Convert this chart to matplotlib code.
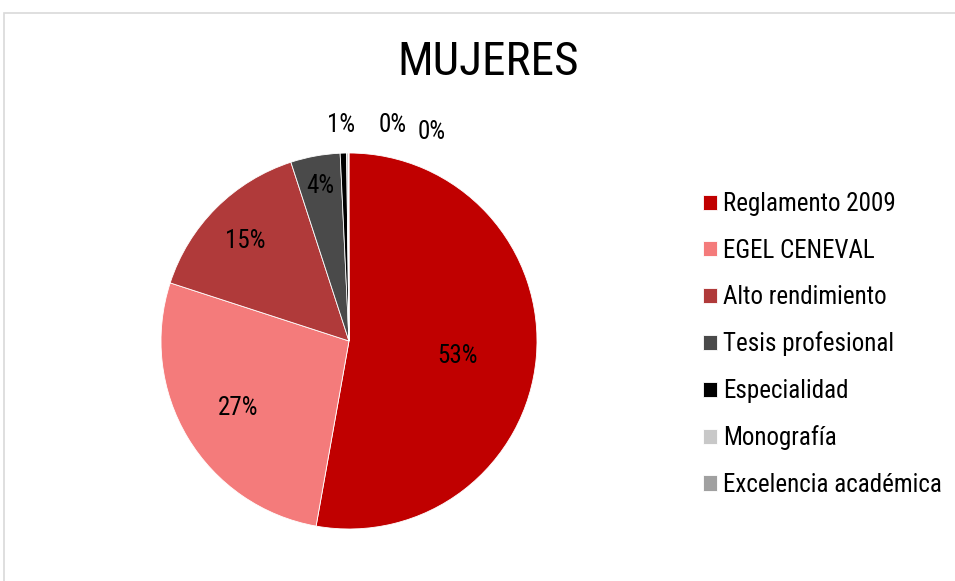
import matplotlib.pyplot as plt
from matplotlib.patches import Rectangle
import numpy as np

categories = ["Reglamento 2009", "EGEL CENEVAL", "Alto rendimiento", "Tesis profesional",
              "Especialidad", "Monografía", "Excelencia académica"]
values = [52.8, 27.2, 15.0, 4.25, 0.55, 0.15, 0.05]
labels = ["53%", "27%", "15%", "4%", "1%", "0%", "0%"]
colors = ["#C00000", "#F47B7B", "#B03A3A", "#4A4A4A", "#000000", "#C8C8C8", "#A0A0A0"]

plt.rcParams['font.family'] = ['Roboto Condensed', 'Liberation Sans Narrow', 'DejaVu Sans']
plt.rcParams['font.stretch'] = 'condensed'

fig = plt.figure(figsize=(9.55, 5.81), dpi=100)

# light grey frame like the spreadsheet chart area (runs off right/bottom)
fig.patches.append(Rectangle((4 / 955, -0.1), 1.2, 1.1 - 13 / 581, transform=fig.transFigure,
                             fill=False, edgecolor="#d9d9d9", linewidth=1.2))

W, H = 955, 581
cx, cy, r = 349, 341, 188
ax = fig.add_axes([(cx - r) / W, (H - cy - r) / H, 2 * r / W, 2 * r / H])
wedges, _ = ax.pie(values, colors=colors, startangle=90, counterclock=False,
                   wedgeprops=dict(edgecolor="white", linewidth=0.6))
ax.set_xlim(-1, 1)
ax.set_ylim(-1, 1)
ax.set_aspect("equal")
ax.axis("off")

# label placement (distance from centre, as fraction of radius)
dists = [0.58, 0.69, 0.78, 0.84]
nudge = [-0.03, 0.0, -0.02, 0.0]
for w, lab, d, n in zip(wedges[:4], labels[:4], dists, nudge):
    a = np.deg2rad((w.theta1 + w.theta2) / 2)
    ax.text(d * np.cos(a), d * np.sin(a) + n, lab, ha="center", va="center", fontsize=18)
# small slices labelled outside
outside = [(-0.04, 1.15), (0.23, 1.15), (0.44, 1.11)]
for lab, (x, y) in zip(labels[4:], outside):
    ax.text(x, y, lab, ha="center", va="center", fontsize=18)

fig.text(488 / W, 1 - 62 / H, "MUJERES", ha="center", va="center", fontsize=34)

fig.legend(wedges, categories, loc="upper left", bbox_to_anchor=(703 / W, 1 - 192 / H),
           frameon=False, fontsize=18, handlelength=0.55, handleheight=0.55,
           handletextpad=0.25, labelspacing=0.9, borderaxespad=0, borderpad=0)

fig.savefig("out.png", dpi=100)
